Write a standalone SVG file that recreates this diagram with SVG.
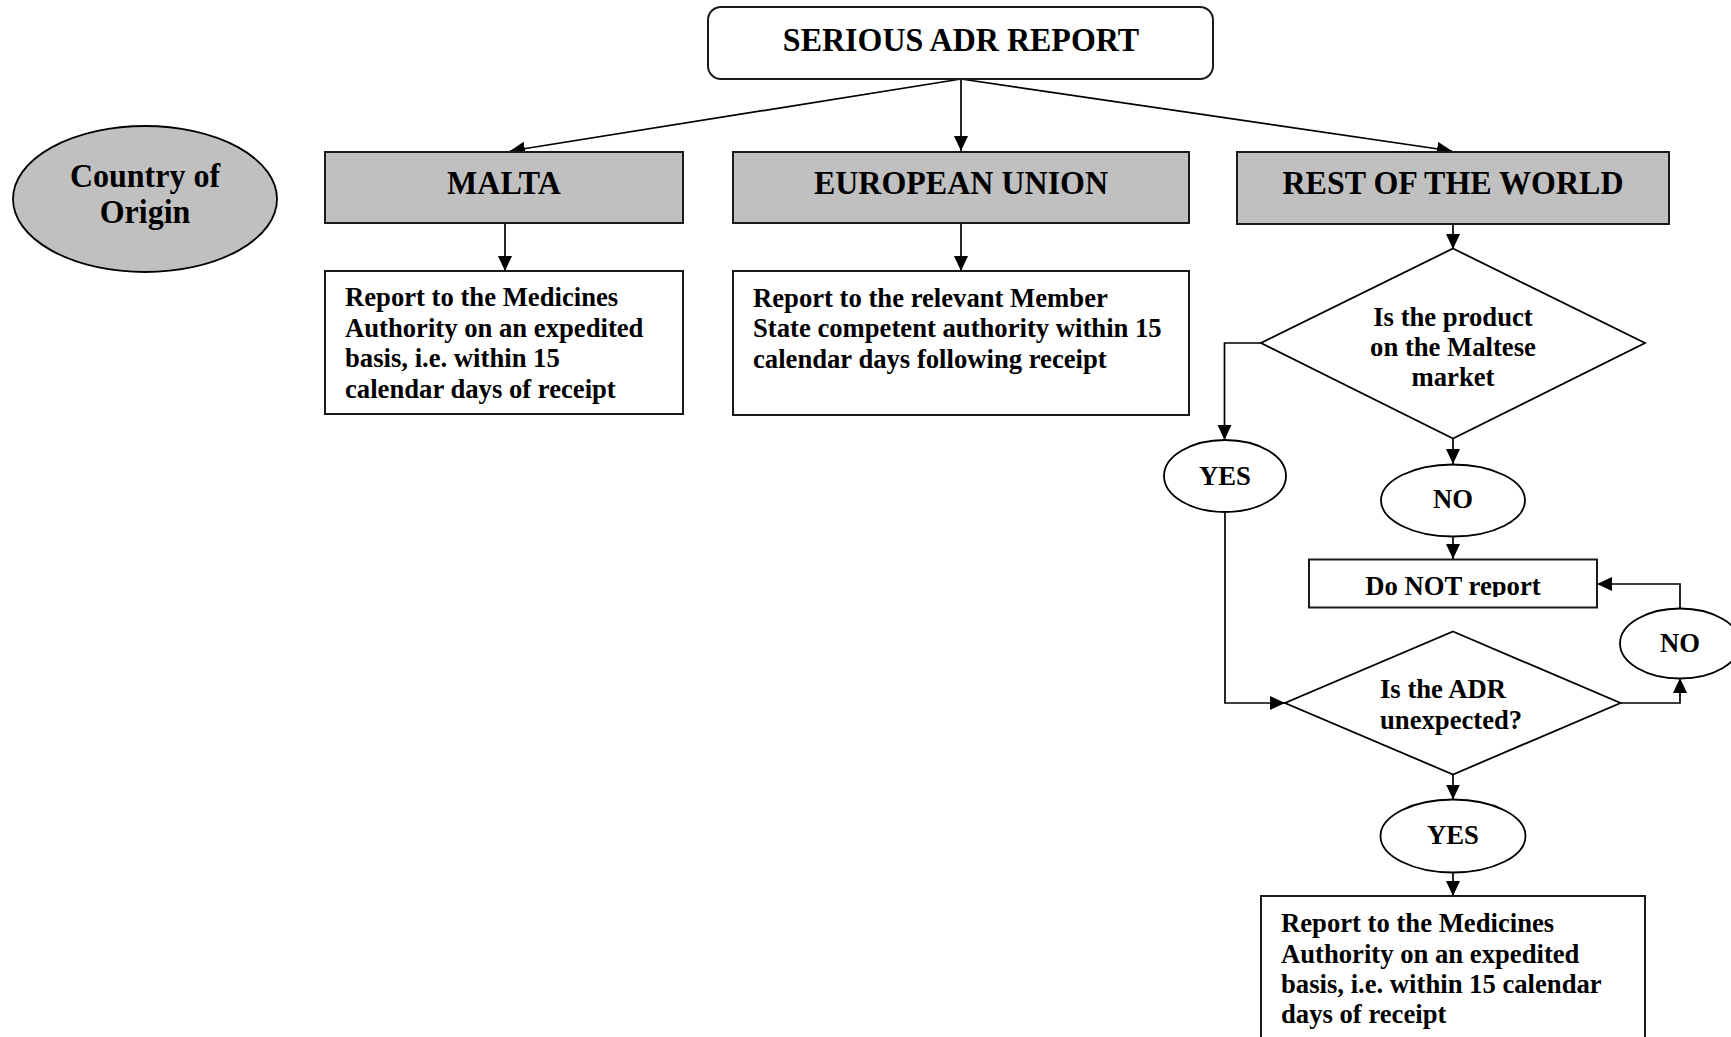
<svg xmlns="http://www.w3.org/2000/svg" width="1731" height="1037" viewBox="0 0 1731 1037">
<style>
text{font-family:"Liberation Serif","Times New Roman",serif;font-weight:bold;fill:#000;transform-box:fill-box;transform-origin:50% 80.5%;transform:scaleY(1.06)}
.h{font-size:32px;text-anchor:middle}
.p{font-size:26.67px}
.c{font-size:26.67px;text-anchor:middle}
.box{fill:#fff;stroke:#1a1a1a;stroke-width:2}
.hdr{fill:#c0c0c0;stroke:#1a1a1a;stroke-width:2}
.shape{fill:#fff;stroke:#000;stroke-width:1.8}
.conn{fill:none;stroke:#000;stroke-width:1.7}
</style>
<defs>
<marker id="ah" markerUnits="userSpaceOnUse" markerWidth="16" markerHeight="15" refX="15" refY="7" orient="auto">
<path d="M0,0 L15,7 L0,14 z" fill="#000"/>
</marker>
<clipPath id="dnclip"><rect x="1310" y="555" width="286" height="42"/></clipPath>
</defs>
<rect width="1731" height="1037" fill="#fff"/>

<g id="connectors">
<line class="conn" x1="961" y1="79" x2="510" y2="151" marker-end="url(#ah)"/>
<line class="conn" x1="961" y1="79" x2="961" y2="151" marker-end="url(#ah)"/>
<line class="conn" x1="961" y1="79" x2="1452" y2="151" marker-end="url(#ah)"/>
<line class="conn" x1="505" y1="223" x2="505" y2="271" marker-end="url(#ah)"/>
<line class="conn" x1="961" y1="223" x2="961" y2="271" marker-end="url(#ah)"/>
<line class="conn" x1="1453" y1="224" x2="1453" y2="249" marker-end="url(#ah)"/>
<polyline class="conn" points="1261,343 1224.5,343 1224.5,440" marker-end="url(#ah)"/>
<line class="conn" x1="1453" y1="439" x2="1453" y2="464" marker-end="url(#ah)"/>
<line class="conn" x1="1453" y1="537" x2="1453" y2="559" marker-end="url(#ah)"/>
<polyline class="conn" points="1225,512 1225,703 1285,703" marker-end="url(#ah)"/>
<polyline class="conn" points="1620.5,703 1680,703 1680,678" marker-end="url(#ah)"/>
<polyline class="conn" points="1680,608 1680,584 1597,584" marker-end="url(#ah)"/>
<line class="conn" x1="1453" y1="775" x2="1453" y2="799.5" marker-end="url(#ah)"/>
<line class="conn" x1="1453" y1="872" x2="1453" y2="896" marker-end="url(#ah)"/>
</g>

<g id="serious-adr-report">
<rect x="708" y="7" width="505" height="72" rx="13" ry="13" class="box"/>
<text class="h" x="961" y="51">SERIOUS ADR REPORT</text>
</g>

<g id="country-of-origin">
<ellipse cx="145" cy="199" rx="132" ry="73" fill="#c0c0c0" stroke="#000" stroke-width="1.8"/>
<text class="h" x="145" y="187">Country of</text>
<text class="h" x="145" y="223">Origin</text>
</g>

<g id="malta">
<rect x="325" y="152" width="358" height="71" class="hdr"/>
<text class="h" x="504" y="194">MALTA</text>
</g>

<g id="european-union">
<rect x="733" y="152" width="456" height="71" class="hdr"/>
<text class="h" x="961" y="194">EUROPEAN UNION</text>
</g>

<g id="rest-of-world">
<rect x="1237" y="152" width="432" height="72" class="hdr"/>
<text class="h" x="1453" y="194">REST OF THE WORLD</text>
</g>

<g id="malta-report">
<rect x="325" y="271" width="358" height="143" class="box"/>
<text class="p" x="345" y="306">Report to the Medicines</text>
<text class="p" x="345" y="337">Authority on an expedited</text>
<text class="p" x="345" y="367">basis, i.e. within 15</text>
<text class="p" x="345" y="398">calendar days of receipt</text>
</g>

<g id="eu-report">
<rect x="733" y="271" width="456" height="144" class="box"/>
<text class="p" x="753" y="307">Report to the relevant Member</text>
<text class="p" x="753" y="337">State competent authority within 15</text>
<text class="p" x="753" y="368">calendar days following receipt</text>
</g>

<g id="maltese-market-decision">
<polygon class="shape" points="1453,248.5 1645,343 1453,438.5 1261,343"/>
<text class="c" x="1453" y="326">Is the product</text>
<text class="c" x="1453" y="356">on the Maltese</text>
<text class="c" x="1453" y="386">market</text>
</g>

<g id="yes-1">
<ellipse class="shape" cx="1225" cy="476" rx="61" ry="36"/>
<text class="c" x="1225" y="485">YES</text>
</g>

<g id="no-1">
<ellipse class="shape" cx="1453" cy="500.5" rx="72" ry="36"/>
<text class="c" x="1453" y="508">NO</text>
</g>

<g id="do-not-report">
<rect x="1309" y="559.5" width="288" height="48" class="box"/>
<g clip-path="url(#dnclip)"><text class="c" x="1453" y="595">Do NOT report</text></g>
</g>

<g id="no-2">
<ellipse class="shape" cx="1680" cy="643.5" rx="60" ry="35"/>
<text class="c" x="1680" y="652">NO</text>
</g>

<g id="adr-unexpected-decision">
<polygon class="shape" points="1453,631.5 1620.5,703 1453,774.5 1285,703"/>
<text class="p" x="1380" y="698">Is the ADR</text>
<text class="p" x="1380" y="729">unexpected?</text>
</g>

<g id="yes-2">
<ellipse class="shape" cx="1453" cy="836" rx="72.5" ry="36.5"/>
<text class="c" x="1453" y="844">YES</text>
</g>

<g id="row-report">
<rect x="1261" y="896" width="384" height="160" class="box"/>
<text class="p" x="1281" y="932">Report to the Medicines</text>
<text class="p" x="1281" y="963">Authority on an expedited</text>
<text class="p" x="1281" y="993">basis, i.e. within 15 calendar</text>
<text class="p" x="1281" y="1023">days of receipt</text>
</g>
</svg>
